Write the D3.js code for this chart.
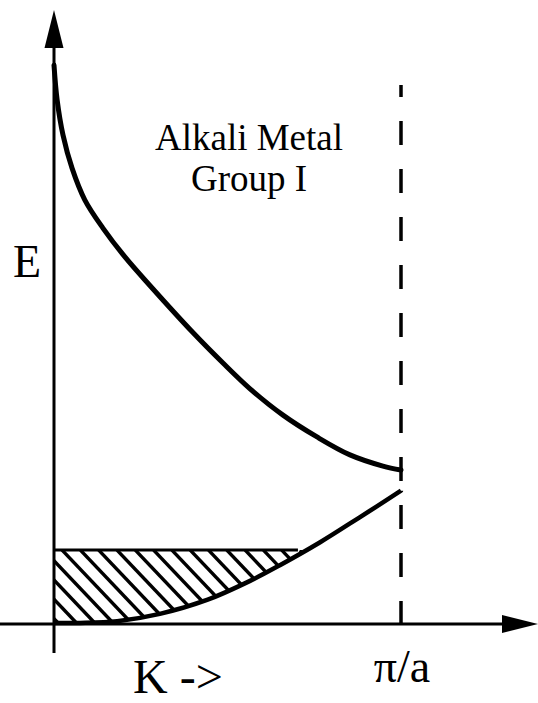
<!DOCTYPE html>
<html>
<head>
<meta charset="utf-8">
<script src="https://cdn.jsdelivr.net/npm/d3@7"></script>
<style>
  html, body { margin: 0; padding: 0; background: #fff; }
  text { font-family: "Liberation Serif", "Times New Roman", serif; fill: #000; }
</style>
</head>
<body>
<div id="chart"></div>
<script>
// Band structure data, k in units of pi/a, E in arbitrary units
const upperK = [0, 0.009, 0.026, 0.052, 0.089, 0.141, 0.205, 0.277, 0.401, 0.487, 0.565, 0.660, 0.758, 0.853, 0.948, 1.0];
const upperE = [9.98, 9.36, 8.73, 8.14, 7.57, 7.07, 6.55, 6.04, 5.20, 4.66, 4.20, 3.73, 3.34, 3.02, 2.82, 2.75];

const lowerK = [0, 0.075, 0.182, 0.305, 0.441, 0.565, 0.651, 0.767, 0.882, 1.0];
const lowerE = [0.02, 0.02, 0.05, 0.18, 0.43, 0.77, 1.05, 1.46, 1.91, 2.38];

// filled states (hatched) up to the Fermi level
const fermiE = 1.32;
const fermiK = 0.703;

const labels = { title: ["Alkali Metal", "Group I"], yLabel: "E", xLabel: "K ->", zoneEdge: "π/a" };

const width = 538, height = 703;

const svg = d3.select("#chart").append("svg")
    .attr("width", width)
    .attr("height", height);

const x = d3.scaleLinear().domain([0, 1]).range([54, 401]);
const y = d3.scaleLinear().domain([0, 10]).range([624, 64]);

const upper = upperK.map((k, i) => [k, upperE[i]]);
const lower = lowerK.map((k, i) => [k, lowerE[i]]);

const line = d3.line()
    .x(d => x(d[0]))
    .y(d => y(d[1]))
    .curve(d3.curveCatmullRom.alpha(0.5));

// Hatched region: between the lower band and the Fermi level
const clipArea = d3.area()
    .x(d => x(d[0]))
    .y0(d => y(d[1]))
    .y1(y(fermiE))
    .curve(d3.curveCatmullRom.alpha(0.5));

svg.append("clipPath")
    .attr("id", "fill-clip")
    .append("path")
    .attr("d", clipArea(lower.filter(d => d[0] <= 0.8)));

const hatch = svg.append("g").attr("clip-path", "url(#fill-clip)");
const slope = 0.95; // dx per dy of the hatch lines
const y0 = y(fermiE), y1 = y(0);
for (let c = x(0) - 120; c < x(fermiK) + 20; c += 18.3) {
    hatch.append("line")
        .attr("x1", c).attr("y1", y0)
        .attr("x2", c + (y1 - y0) * slope).attr("y2", y1)
        .attr("stroke", "#000")
        .attr("stroke-width", 3.4);
}

// Fermi level line
svg.append("line")
    .attr("x1", x(0)).attr("x2", x(fermiK))
    .attr("y1", y(fermiE)).attr("y2", y(fermiE))
    .attr("stroke", "#000")
    .attr("stroke-width", 3);

// Zone boundary (dashed)
svg.append("line")
    .attr("x1", x(1)).attr("x2", x(1))
    .attr("y1", 85).attr("y2", y(0))
    .attr("stroke", "#000")
    .attr("stroke-width", 3.5)
    .attr("stroke-dasharray", "24,24")
    .attr("stroke-dashoffset", 12);

// Axes
svg.append("line")
    .attr("x1", x(0)).attr("x2", x(0))
    .attr("y1", 40).attr("y2", 653)
    .attr("stroke", "#000")
    .attr("stroke-width", 3);

svg.append("line")
    .attr("x1", 0).attr("x2", 510)
    .attr("y1", y(0)).attr("y2", y(0))
    .attr("stroke", "#000")
    .attr("stroke-width", 3);

svg.append("path")
    .attr("d", `M${x(0)},10 L${x(0) + 9.5},48 L${x(0) - 9.5},48 Z`)
    .attr("fill", "#000");

svg.append("path")
    .attr("d", `M538,${y(0)} L502,${y(0) - 9} L502,${y(0) + 9} Z`)
    .attr("fill", "#000");

// Bands
svg.append("path")
    .attr("d", line(upper))
    .attr("fill", "none")
    .attr("stroke", "#000")
    .attr("stroke-width", 5)
    .attr("stroke-linecap", "round");

svg.append("path")
    .attr("d", line(lower))
    .attr("fill", "none")
    .attr("stroke", "#000")
    .attr("stroke-width", 4.5);

// Labels
svg.append("text")
    .attr("x", 249).attr("y", 150)
    .attr("text-anchor", "middle")
    .style("font-size", "37px")
    .text(labels.title[0]);

svg.append("text")
    .attr("x", 249).attr("y", 191)
    .attr("text-anchor", "middle")
    .style("font-size", "37px")
    .text(labels.title[1]);

svg.append("text")
    .attr("x", 13).attr("y", 277)
    .style("font-size", "46px")
    .text(labels.yLabel);

svg.append("text")
    .attr("x", 133).attr("y", 693)
    .style("font-size", "48px")
    .text(labels.xLabel);

svg.append("text")
    .attr("x", x(1) + 1).attr("y", 682)
    .attr("text-anchor", "middle")
    .style("font-size", "46px")
    .text(labels.zoneEdge);
</script>
</body>
</html>
